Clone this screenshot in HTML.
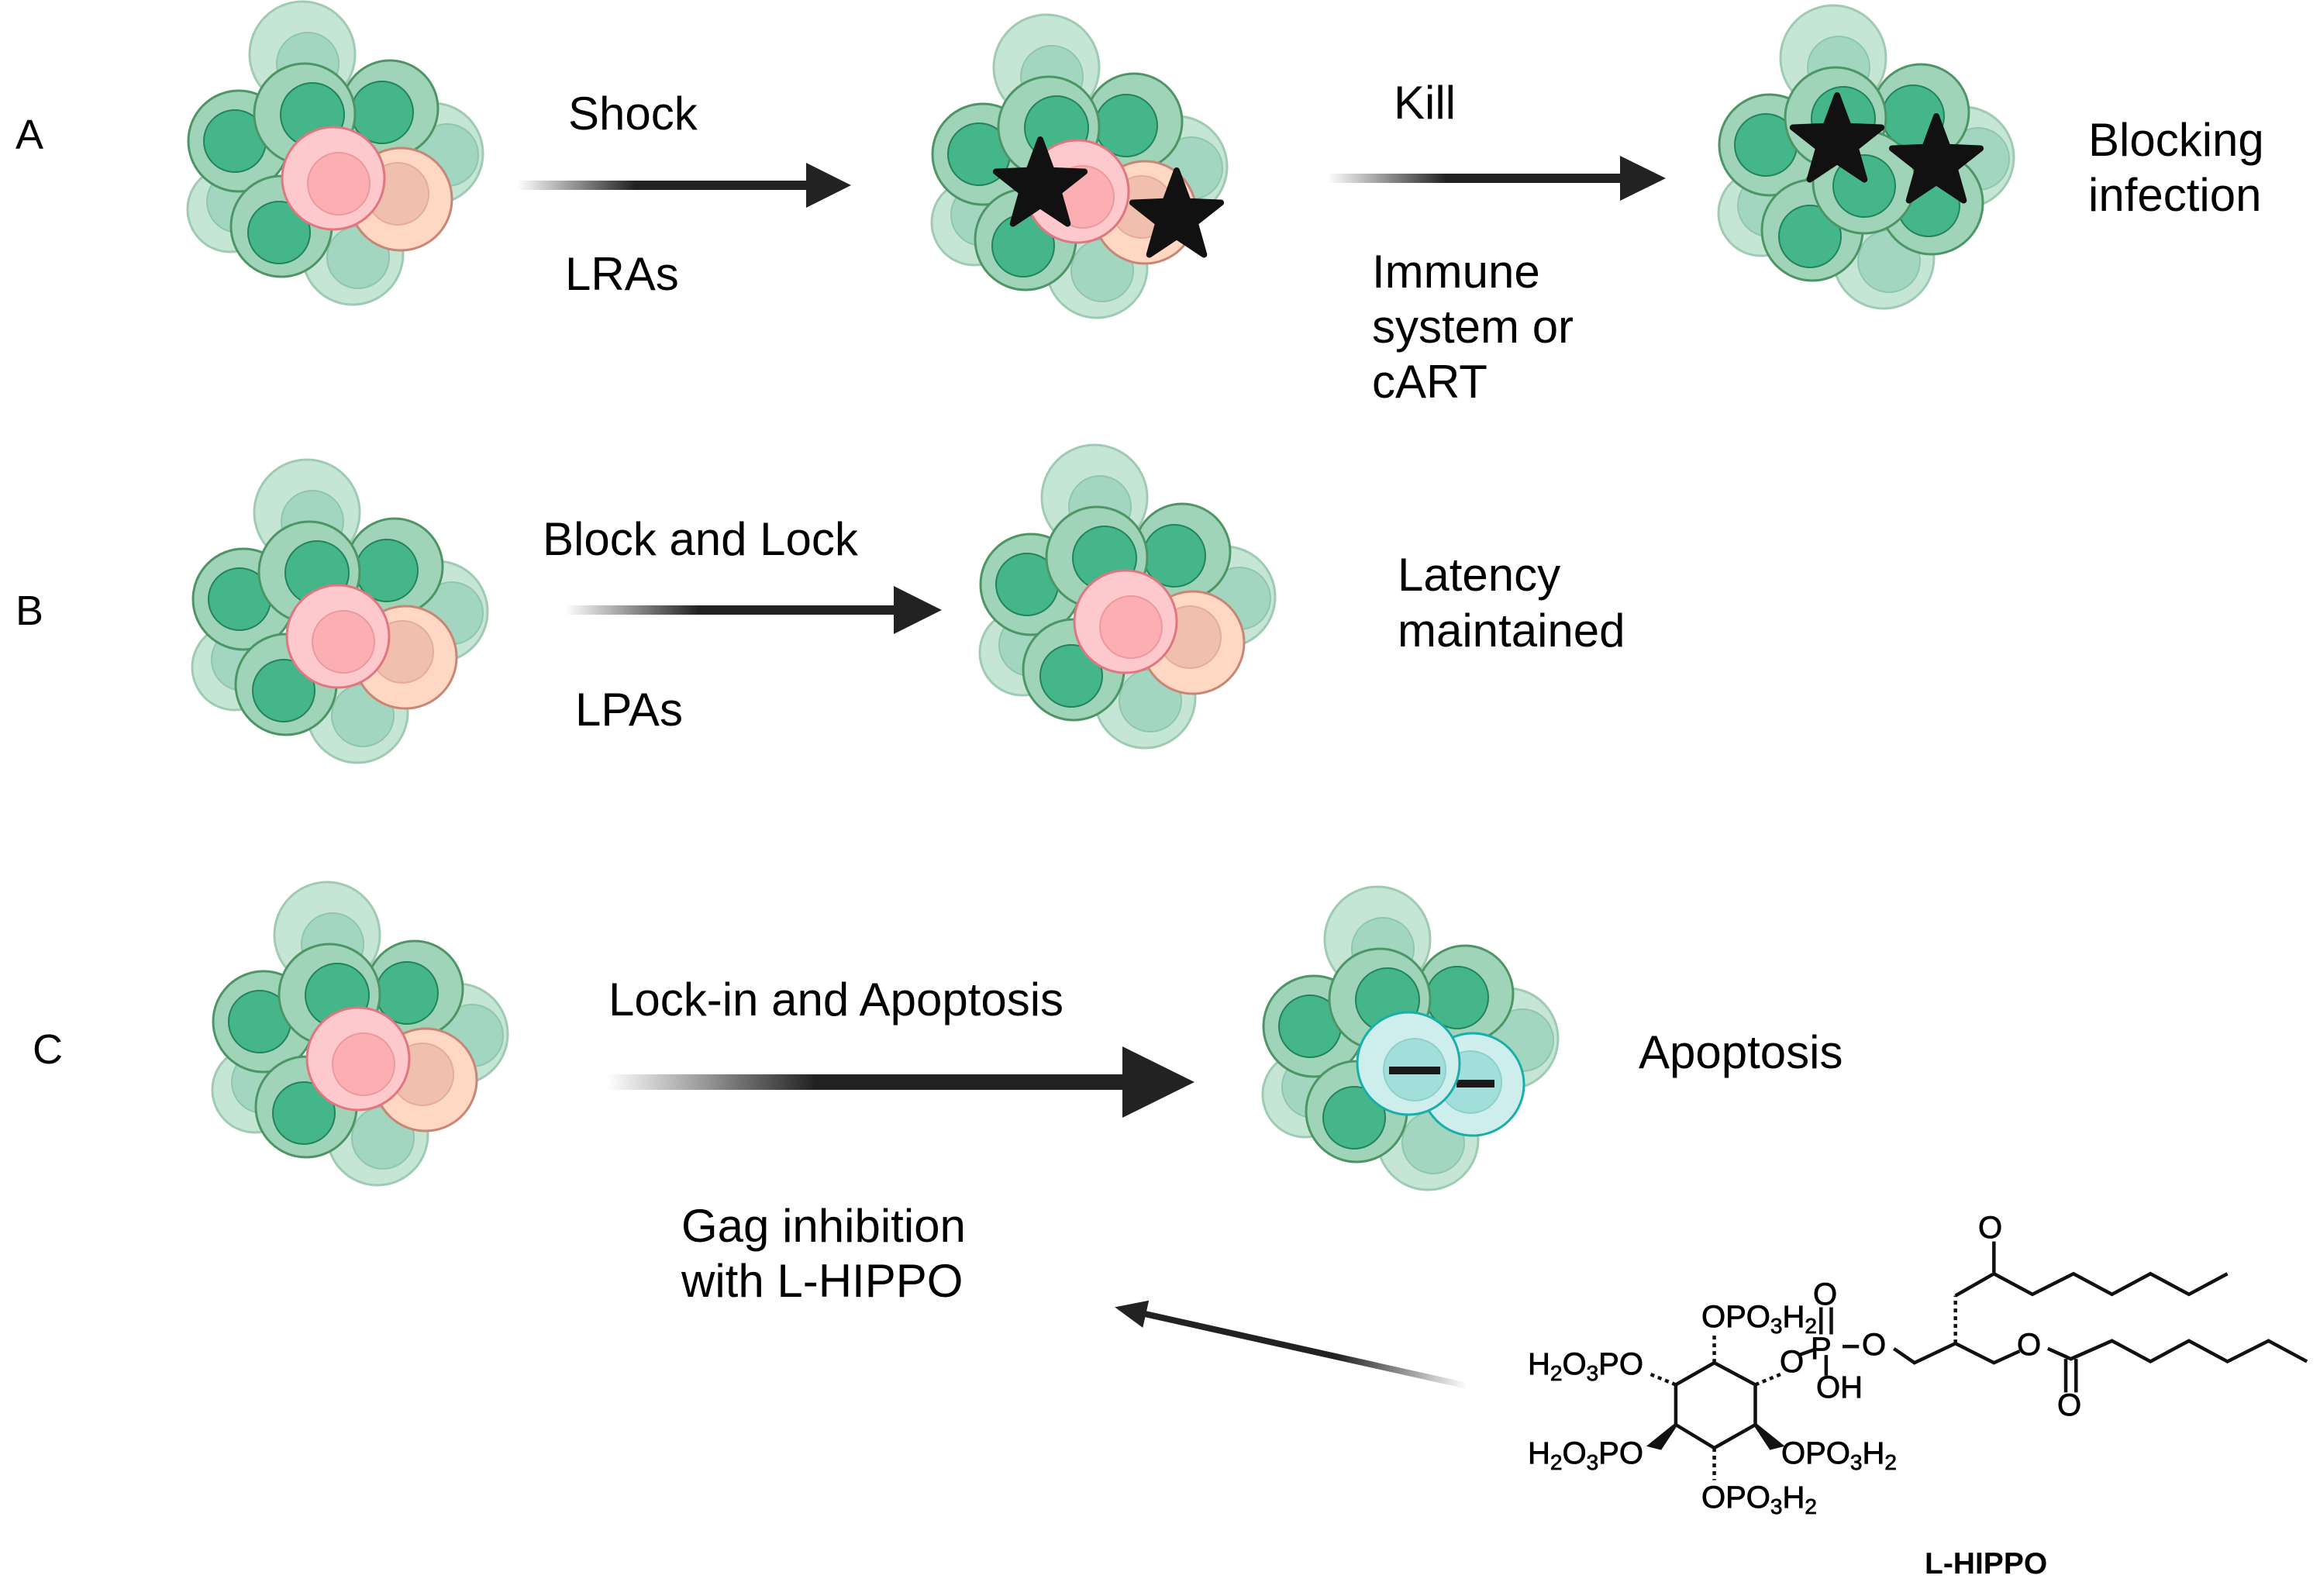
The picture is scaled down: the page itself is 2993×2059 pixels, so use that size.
<!DOCTYPE html>
<html><head><meta charset="utf-8"><style>
html,body{margin:0;padding:0;background:#fff;}
svg{display:block;}
text{font-family:"Liberation Sans",Arial,sans-serif;fill:#000;}
</style></head><body>
<svg width="2993" height="2059" viewBox="0 0 2993 2059" xmlns="http://www.w3.org/2000/svg">
<defs>
<linearGradient id="gr" x1="0" x2="1" y1="0" y2="0">
<stop offset="0" stop-color="#222" stop-opacity="0"/>
<stop offset="0.4" stop-color="#222" stop-opacity="1"/>
<stop offset="1" stop-color="#222"/>
</linearGradient>
<g id="back">
<circle cx="-40" cy="-160" r="68" fill="#c5e6d5" stroke="#9fcab3" stroke-width="3"/>
<circle cx="-33" cy="-148" r="40" fill="#a3d6c0" stroke="#90c6ad" stroke-width="2"/>
<circle cx="128" cy="-32" r="65" fill="#c5e6d5" stroke="#9fcab3" stroke-width="3"/>
<circle cx="147" cy="-30" r="40" fill="#a3d6c0" stroke="#90c6ad" stroke-width="2"/>
<circle cx="-133" cy="40" r="55" fill="#c5e6d5" stroke="#9fcab3" stroke-width="3"/>
<circle cx="-123" cy="30" r="40" fill="#a3d6c0" stroke="#90c6ad" stroke-width="2"/>
<circle cx="25" cy="98" r="65" fill="#c5e6d5" stroke="#9fcab3" stroke-width="3"/>
<circle cx="32" cy="102" r="40" fill="#a3d6c0" stroke="#90c6ad" stroke-width="2"/>
<circle cx="-122" cy="-48" r="65" fill="#9fd4b9" stroke="#4e9566" stroke-width="3"/>
<circle cx="-127" cy="-48" r="40" fill="#45b58a" stroke="#23835a" stroke-width="2"/>
<circle cx="-67" cy="62" r="65" fill="#9fd4b9" stroke="#4e9566" stroke-width="3"/>
<circle cx="-70" cy="70" r="40" fill="#45b58a" stroke="#23835a" stroke-width="2"/>
<circle cx="73" cy="-90" r="62" fill="#9fd4b9" stroke="#4e9566" stroke-width="3"/>
<circle cx="63" cy="-85" r="40" fill="#45b58a" stroke="#23835a" stroke-width="2"/>
<circle cx="-37" cy="-83" r="65" fill="#9fd4b9" stroke="#4e9566" stroke-width="3"/>
<circle cx="-27" cy="-82" r="41" fill="#45b58a" stroke="#23835a" stroke-width="2"/>
</g>
<g id="cl">
<use href="#back"/>
<circle cx="87" cy="27" r="66" fill="#fed8c3" stroke="#c98575" stroke-width="3"/>
<circle cx="83" cy="20" r="40" fill="#f0bfad" stroke="#e4ad9a" stroke-width="2"/>
<circle cx="0" cy="0" r="66" fill="#fec9cc" stroke="#e0767f" stroke-width="3"/>
<circle cx="7" cy="7" r="40" fill="#fbafb2" stroke="#eb9a9f" stroke-width="2"/>
</g>
<polygon id="star" points="0,-60 14.7,-20.2 57.1,-18.5 23.8,7.7 35.3,48.5 0,25 -35.3,48.5 -23.8,7.7 -57.1,-18.5 -14.7,-20.2" fill="#111" stroke="#111" stroke-width="8" stroke-linejoin="round"/>
</defs>

<!-- Row A -->
<use href="#cl" transform="translate(430,230)"/>
<use href="#cl" transform="translate(1390,247)"/>
<use href="#star" transform="translate(1342,240)"/>
<use href="#star" transform="translate(1518,280)"/>
<g transform="translate(2405,235)">
<use href="#back"/>
<circle cx="87" cy="27" r="66" fill="#9fd4b9" stroke="#4e9566" stroke-width="3"/>
<circle cx="83" cy="30" r="40" fill="#45b58a" stroke="#23835a" stroke-width="2"/>
<circle cx="0" cy="0" r="66" fill="#9fd4b9" stroke="#4e9566" stroke-width="3"/>
<circle cx="0" cy="5" r="40" fill="#45b58a" stroke="#23835a" stroke-width="2"/>
</g>
<use href="#star" transform="translate(2370,183)"/>
<use href="#star" transform="translate(2498,210)"/>

<text x="20" y="192" font-size="54">A</text>
<text x="733" y="167" font-size="60">Shock</text>
<text x="729" y="374" font-size="60">LRAs</text>
<rect x="667" y="233" width="380" height="12" fill="url(#gr)"/>
<polygon points="1040,210 1098,239 1040,268" fill="#222"/>

<text x="1798" y="153" font-size="60">Kill</text>
<rect x="1713" y="224" width="382" height="12" fill="url(#gr)"/>
<polygon points="2090,201 2149,230 2090,259" fill="#222"/>
<text x="1770" y="371" font-size="60">Immune</text>
<text x="1770" y="442" font-size="60">system or</text>
<text x="1770" y="513" font-size="60">cART</text>
<text x="2694" y="201" font-size="60">Blocking</text>
<text x="2694" y="272" font-size="60">infection</text>

<!-- Row B -->
<use href="#cl" transform="translate(436,821)"/>
<use href="#cl" transform="translate(1452,802)"/>
<text x="20" y="806" font-size="54">B</text>
<text x="700" y="716" font-size="60">Block and Lock</text>
<text x="742" y="936" font-size="60">LPAs</text>
<rect x="729" y="781" width="430" height="12" fill="url(#gr)"/>
<polygon points="1153,756 1215,787 1153,818" fill="#222"/>
<text x="1803" y="762" font-size="60">Latency</text>
<text x="1803" y="834" font-size="60">maintained</text>

<!-- Row C -->
<use href="#cl" transform="translate(462,1366)"/>
<g transform="translate(1817,1372)">
<use href="#back"/>
<circle cx="83" cy="27" r="66" fill="#cdeeed" stroke="#1aaeaa" stroke-width="3"/>
<circle cx="80" cy="24" r="40" fill="#a3dfda" stroke="#8fd0cb" stroke-width="2"/>
<rect x="62" y="21" width="49" height="10" fill="#1a1a1a"/>
<circle cx="0" cy="0" r="66" fill="#cdeeed" stroke="#1aaeaa" stroke-width="3"/>
<circle cx="8" cy="8" r="40" fill="#a3dfda" stroke="#8fd0cb" stroke-width="2"/>
<rect x="-25" y="4" width="66" height="10" fill="#1a1a1a"/>
</g>
<text x="42" y="1372" font-size="54">C</text>
<text x="785" y="1310" font-size="60">Lock-in and Apoptosis</text>
<rect x="783" y="1386" width="670" height="20" fill="url(#gr)"/>
<polygon points="1448,1350 1541,1396 1448,1442" fill="#222"/>
<text x="2114" y="1378" font-size="60">Apoptosis</text>
<text x="879" y="1602" font-size="60">Gag inhibition</text>
<text x="879" y="1673" font-size="60">with L-HIPPO</text>

<!-- diagonal arrow -->
<g transform="translate(1893,1788) rotate(192.6)">
<rect x="0" y="-4" width="430" height="8" fill="url(#gr)"/>
<polygon points="425,-18 466,0 425,18" fill="#222"/>
</g>

<!-- chemical structure -->
<g transform="translate(1960,1540) scale(0.662,0.333)" stroke="#111" stroke-width="4.5" fill="none">
<polyline vector-effect="non-scaling-stroke" points="380,655 460,740 460,895 380,985 305,895 305,740 380,655"/>
<line vector-effect="non-scaling-stroke" x1="380" y1="655" x2="380" y2="545" stroke-dasharray="5,5"/>
<line vector-effect="non-scaling-stroke" x1="305" y1="740" x2="250" y2="695" stroke-dasharray="5,5"/>
<line vector-effect="non-scaling-stroke" x1="460" y1="740" x2="515" y2="695" stroke-dasharray="5,5"/>
<line vector-effect="non-scaling-stroke" x1="380" y1="985" x2="380" y2="1110" stroke-dasharray="5,5"/>
<polygon vector-effect="non-scaling-stroke" points="305,895 255,975 275,985" fill="#111"/>
<polygon vector-effect="non-scaling-stroke" points="460,895 510,975 490,985" fill="#111"/>
<line vector-effect="non-scaling-stroke" x1="545" y1="625" x2="578" y2="602"/>
<line vector-effect="non-scaling-stroke" x1="588" y1="545" x2="588" y2="440"/>
<line vector-effect="non-scaling-stroke" x1="608" y1="545" x2="608" y2="440"/>
<line vector-effect="non-scaling-stroke" x1="630" y1="592" x2="662" y2="592"/>
<line vector-effect="non-scaling-stroke" x1="598" y1="625" x2="598" y2="705"/>
<polyline vector-effect="non-scaling-stroke" points="730,600 770,655 850,580 925,655 975,610"/>
<line vector-effect="non-scaling-stroke" x1="850" y1="580" x2="850" y2="395" stroke-dasharray="5,5"/>
<polyline vector-effect="non-scaling-stroke" points="850,395 925,310 1000,390 1080,310 1155,390 1230,310 1305,390 1380,310"/>
<line vector-effect="non-scaling-stroke" x1="925" y1="310" x2="925" y2="185"/>
<polyline vector-effect="non-scaling-stroke" points="1030,600 1075,640 1155,570 1230,650 1305,570 1380,650 1460,570 1535,650"/>
<line vector-effect="non-scaling-stroke" x1="1065" y1="640" x2="1065" y2="770"/>
<line vector-effect="non-scaling-stroke" x1="1085" y1="640" x2="1085" y2="770"/>
</g>
<g font-size="40" stroke="#000" stroke-width="0.8">
<text x="2195" y="1712">OPO<tspan font-size="28" dy="8">3</tspan><tspan dy="-8">H</tspan><tspan font-size="28" dy="8">2</tspan></text>
<text x="1971" y="1773">H<tspan font-size="28" dy="8">2</tspan><tspan dy="-8">O</tspan><tspan font-size="28" dy="8">3</tspan><tspan dy="-8">PO</tspan></text>
<text x="1971" y="1888">H<tspan font-size="28" dy="8">2</tspan><tspan dy="-8">O</tspan><tspan font-size="28" dy="8">3</tspan><tspan dy="-8">PO</tspan></text>
<text x="2298" y="1888">OPO<tspan font-size="28" dy="8">3</tspan><tspan dy="-8">H</tspan><tspan font-size="28" dy="8">2</tspan></text>
<text x="2195" y="1945">OPO<tspan font-size="28" dy="8">3</tspan><tspan dy="-8">H</tspan><tspan font-size="28" dy="8">2</tspan></text>
<text x="2296" y="1770">O</text>
<text x="2336" y="1753">P</text>
<text x="2339" y="1683">O</text>
<text x="2402" y="1748">O</text>
<text x="2343" y="1803">OH</text>
<text x="2552" y="1597">O</text>
<text x="2602" y="1748">O</text>
<text x="2654" y="1826">O</text>
<text x="2483" y="2030" font-weight="bold" font-size="39" stroke-width="0">L-HIPPO</text>
</g>
</svg>
</body></html>
